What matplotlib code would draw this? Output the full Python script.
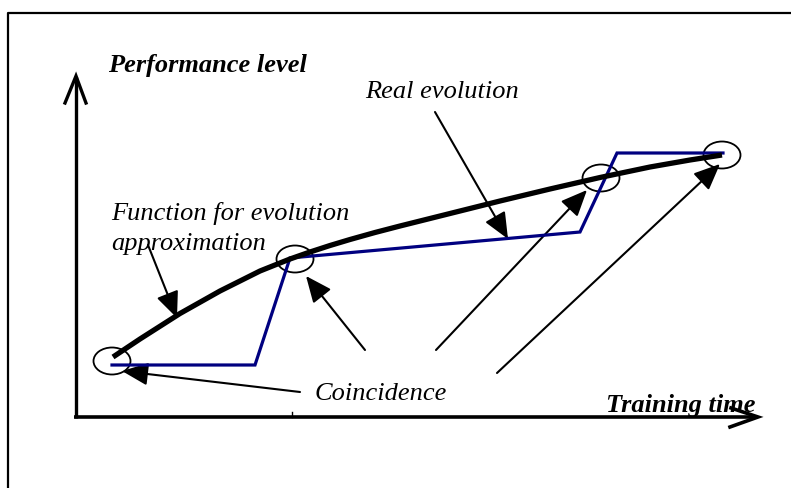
import matplotlib
matplotlib.use("Agg")
import matplotlib.pyplot as plt
from matplotlib.patches import Ellipse, FancyArrowPatch

# ---- data (pixel coordinates) ----
real_x = [112, 255, 290, 580, 617, 723]
real_y = [365, 365, 258, 232, 153, 153]

approx_x = [113, 140, 180, 220, 260, 290, 310, 330, 350, 375, 400, 450,
            500, 550, 600, 650, 690, 722]
approx_y = [357, 339, 313.5, 291, 271, 259, 252, 245.5, 239.5, 232.5, 226, 213.5,
            201, 189, 177.5, 167, 160, 155]

coincide_x = [112, 295, 601, 722]
coincide_y = [361, 259, 178, 155]

# annotation arrows: (start x, start y, tip x, tip y)
arrow_start_x = [435, 148, 300, 365, 436, 497]
arrow_start_y = [112, 245, 392, 350, 350, 373]
arrow_tip_x = [508, 177, 122, 306, 587, 720]
arrow_tip_y = [239, 318, 371, 276, 190, 164]

labels = ["Performance level", "Real evolution", "Function for evolution",
          "approximation", "Coincidence", "Training time"]
label_x = [108, 365, 111, 111, 315, 606]
label_y = [72, 98, 220, 250, 400, 412]
label_weight = ["bold", "normal", "normal", "normal", "normal", "bold"]

W, H = 791, 488
fig = plt.figure(figsize=(W / 100, H / 100), dpi=100)
ax = fig.add_axes([0, 0, 1, 1])
ax.set_xlim(0, W)
ax.set_ylim(H, 0)
ax.axis("off")

# outer frame (clipped at right and bottom)
ax.plot([8, 8, W + 5], [H + 5, 13, 13], color="black", lw=1.6, solid_capstyle="butt")

# axes
ax.plot([76, 76], [418, 77], color="black", lw=2.4, solid_capstyle="butt")
ax.plot([65, 76, 86], [103, 76, 103], color="black", lw=2.4, solid_joinstyle="miter")
ax.plot([74, 757], [417, 417], color="black", lw=2.6, solid_capstyle="butt")
ax.plot([731, 758, 730], [408, 417, 427], color="black", lw=2.6, solid_joinstyle="miter")
ax.plot([292, 292], [412, 417], color="black", lw=1.0)

# curves
ax.plot(real_x, real_y, color="#000080", lw=2.3, solid_joinstyle="miter")
ax.plot(approx_x, approx_y, color="black", lw=3.8, solid_capstyle="butt",
        solid_joinstyle="round")

# coincidence ellipses
for cx, cy in zip(coincide_x, coincide_y):
    ax.add_patch(Ellipse((cx, cy), 37, 27, fill=False, ec="black", lw=1.3))

# arrows
for sx, sy, tx, ty in zip(arrow_start_x, arrow_start_y, arrow_tip_x, arrow_tip_y):
    ax.add_patch(FancyArrowPatch((sx, sy), (tx, ty),
                                 arrowstyle="-|>,head_length=1.15,head_width=0.5",
                                 mutation_scale=14, color="black", lw=1.5,
                                 shrinkA=0, shrinkB=0))

# texts
for t, x, y, w in zip(labels, label_x, label_y, label_weight):
    ax.text(x, y, t, ha="left", va="baseline", fontsize=19,
            family="Liberation Serif", style="italic", weight=w)

fig.savefig("out.png", dpi=100)
